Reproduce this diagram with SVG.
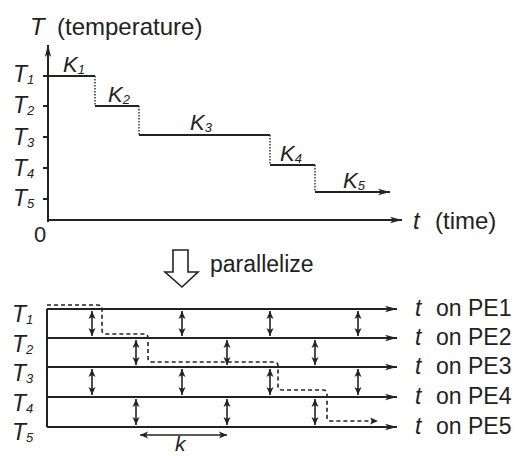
<svg xmlns="http://www.w3.org/2000/svg" width="520" height="456" viewBox="0 0 520 456">
<defs>
<style>
.ln{stroke:#222;stroke-width:2;fill:none}
.dot{stroke:#333;stroke-width:1.5;fill:none;stroke-dasharray:1.5 1.5}
.dash{stroke:#222;stroke-width:1.6;fill:none;stroke-dasharray:4 3}
.va{stroke:#222;stroke-width:1.6;fill:none;marker-start:url(#ah);marker-end:url(#ah)}
.t{font-family:"Liberation Sans",Arial,sans-serif;fill:#222}
.i{font-style:italic}
</style>
<marker id="arr" viewBox="0 0 12 8" refX="12" refY="4" markerWidth="12" markerHeight="8" markerUnits="userSpaceOnUse" orient="auto">
<path d="M0,0.8 L12,4 L0,7.2 L3,4 Z" fill="#222"/>
</marker>
<marker id="ah" viewBox="0 0 8 8" refX="8" refY="4" markerWidth="8" markerHeight="8" markerUnits="userSpaceOnUse" orient="auto-start-reverse">
<path d="M0,0.5 L8,4 L0,7.5 L2,4 Z" fill="#222"/>
</marker>
</defs>
<rect width="520" height="456" fill="#fff"/>

<g id="connectors">
<line class="ln" x1="48" y1="222" x2="48" y2="45" marker-end="url(#arr)"/>
<line class="ln" x1="47" y1="220" x2="402" y2="220" marker-end="url(#arr)"/>
<g class="ln">
<line x1="43" y1="76" x2="48" y2="76"/>
<line x1="43" y1="106" x2="48" y2="106"/>
<line x1="43" y1="137" x2="48" y2="137"/>
<line x1="43" y1="168" x2="48" y2="168"/>
<line x1="43" y1="199" x2="48" y2="199"/>
</g>
<g class="ln">
<line x1="48" y1="76" x2="95" y2="76"/>
<line x1="95" y1="106" x2="139" y2="106"/>
<line x1="139" y1="135" x2="270" y2="135"/>
<line x1="270" y1="165" x2="315" y2="165"/>
</g>
<line class="ln" x1="315" y1="192" x2="390" y2="192" marker-end="url(#arr)"/>
<g class="dot">
<line x1="95" y1="76" x2="95" y2="106"/>
<line x1="139" y1="106" x2="139" y2="135"/>
<line x1="270" y1="135" x2="270" y2="165"/>
<line x1="315" y1="165" x2="315" y2="192"/>
</g>
<path d="M173,250 H188 V272 H198 L182,287 L165,272 H173 Z" fill="#fff" stroke="#222" stroke-width="1.6"/>
<line class="ln" x1="47" y1="309" x2="47" y2="427"/>
<line class="ln" x1="47" y1="309" x2="397" y2="309" marker-end="url(#arr)"/>
<line class="ln" x1="47" y1="338" x2="397" y2="338" marker-end="url(#arr)"/>
<line class="ln" x1="47" y1="367" x2="397" y2="367" marker-end="url(#arr)"/>
<line class="ln" x1="47" y1="397" x2="397" y2="397" marker-end="url(#arr)"/>
<line class="ln" x1="47" y1="427" x2="397" y2="427" marker-end="url(#arr)"/>
<line class="va" x1="92" y1="311" x2="92" y2="336"/>
<line class="va" x1="182" y1="311" x2="182" y2="336"/>
<line class="va" x1="270" y1="311" x2="270" y2="336"/>
<line class="va" x1="358" y1="311" x2="358" y2="336"/>
<line class="va" x1="136" y1="340" x2="136" y2="365"/>
<line class="va" x1="227" y1="340" x2="227" y2="365"/>
<line class="va" x1="315" y1="340" x2="315" y2="365"/>
<line class="va" x1="92" y1="369" x2="92" y2="395"/>
<line class="va" x1="182" y1="369" x2="182" y2="395"/>
<line class="va" x1="270" y1="369" x2="270" y2="395"/>
<line class="va" x1="358" y1="369" x2="358" y2="395"/>
<line class="va" x1="136" y1="399" x2="136" y2="425"/>
<line class="va" x1="227" y1="399" x2="227" y2="425"/>
<line class="va" x1="315" y1="399" x2="315" y2="425"/>
<line class="va" x1="140" y1="435" x2="227" y2="435"/>
<path class="dash" d="M47,305 H98 Q102,305 102,309 V330 Q102,334 106,334 H144 Q148,334 148,338 V358 Q148,362 152,362 H274 Q278,362 278,366 V386 Q278,390 282,390 H323 Q327,390 327,394 V417 Q327,421 331,421 H378" marker-end="url(#ah)"/>
</g>

<g id="axis-labels">
<text x="30" y="35" font-size="24" class="t i">T</text>
<text x="57" y="35" font-size="24" class="t">(temperature)</text>
<text x="34" y="242" font-size="22" class="t">0</text>
<text x="413" y="229" font-size="24" class="t i">t</text>
<text x="435" y="229" font-size="24" class="t">(time)</text>
</g>

<g id="top-temps" class="t i" font-size="23">
<text x="13" y="82">T<tspan font-size="13" dy="2">1</tspan></text>
<text x="13" y="113">T<tspan font-size="13" dy="2">2</tspan></text>
<text x="13" y="145">T<tspan font-size="13" dy="2">3</tspan></text>
<text x="13" y="176">T<tspan font-size="13" dy="2">4</tspan></text>
<text x="13" y="206">T<tspan font-size="13" dy="2">5</tspan></text>
</g>

<g id="k-labels" class="t i" font-size="22">
<text x="63" y="72">K<tspan font-size="13" dy="2">1</tspan></text>
<text x="108" y="102">K<tspan font-size="13" dy="2">2</tspan></text>
<text x="190" y="130">K<tspan font-size="13" dy="2">3</tspan></text>
<text x="280" y="161">K<tspan font-size="13" dy="2">4</tspan></text>
<text x="343" y="188">K<tspan font-size="13" dy="2">5</tspan></text>
</g>

<g id="parallelize">
<text x="210" y="272" font-size="23" class="t">parallelize</text>
</g>

<g id="bottom-temps" class="t i" font-size="23">
<text x="12" y="322">T<tspan font-size="13" dy="2">1</tspan></text>
<text x="12" y="352">T<tspan font-size="13" dy="2">2</tspan></text>
<text x="12" y="381">T<tspan font-size="13" dy="2">3</tspan></text>
<text x="12" y="411">T<tspan font-size="13" dy="2">4</tspan></text>
<text x="12" y="440">T<tspan font-size="13" dy="2">5</tspan></text>
</g>

<g id="pe-labels" class="t" font-size="23">
<text x="415" y="316"><tspan class="i">t</tspan><tspan x="436">on PE1</tspan></text>
<text x="415" y="345"><tspan class="i">t</tspan><tspan x="436">on PE2</tspan></text>
<text x="415" y="374"><tspan class="i">t</tspan><tspan x="436">on PE3</tspan></text>
<text x="415" y="404"><tspan class="i">t</tspan><tspan x="436">on PE4</tspan></text>
<text x="415" y="434"><tspan class="i">t</tspan><tspan x="436">on PE5</tspan></text>
</g>

<g id="k-span">
<text x="175" y="451" font-size="21" class="t i">k</text>
</g>
</svg>
